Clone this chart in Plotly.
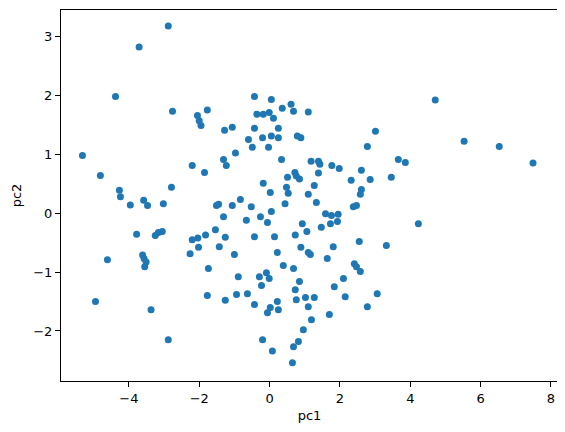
import plotly.graph_objects as go

# principal component scores
pc1 = [-5.32, -4.95, -4.81, -4.61, -4.38, -4.27, -4.24, -3.96, -3.78, -3.71,
       -3.58, -3.61, -3.57, -3.55, -3.51, -3.47, -3.37, -3.25, -3.16, -3.05,
       -3.02, -2.88, -2.88, -2.79, -2.76, -2.20, -2.20, -2.04, -2.02, -2.26,
       -2.05, -2.00, -1.95, -1.77, -1.85, -1.74, -1.77, -1.54, -1.82, -1.51,
       -1.45, -1.43, -1.31, -1.23, -1.28, -1.06, -1.31, -1.26, -1.26, -1.06,
       -1.00, -0.97, -0.94, -0.89, -0.83, -0.66, -0.63, -0.60, -0.52, -0.49,
       -0.43, -0.43, -0.43, -0.43, -0.36, -0.29, -0.26, -0.23, -0.20, -0.20,
       -0.18, -0.18, -0.09, -0.06, -0.06, -0.03, -0.01, -0.01, 0.02, 0.02,
       0.05, 0.05, 0.05, 0.08, 0.11, 0.14, 0.22, 0.22, 0.25, 0.25,
       0.25, 0.34, 0.36, 0.39, 0.44, 0.48, 0.51, 0.53, 0.61, 0.65,
       0.68, 0.68, 0.68, 0.72, 0.73, 0.73, 0.76, 0.76, 0.79, 0.82,
       0.85, 0.85, 0.89, 0.89, 0.93, 0.96, 1.02, 1.06, 1.10, 1.10,
       1.10, 1.10, 1.16, 1.18, 1.19, 1.27, 1.27, 1.33, 1.39, 1.43,
       1.39, 1.47, 1.59, 1.64, 1.70, 1.73, 1.76, 1.77, 1.81, 1.84,
       1.93, 1.95, 1.98, 2.10, 2.15, 2.32, 2.38, 2.41, 2.47, 2.47,
       2.55, 2.58, 2.58, 2.61, 2.61, 2.78, 2.78, 2.86, 3.01, 3.06,
       3.32, 3.46, 3.66, 3.86, 4.23, 4.71, 5.53, 6.53, 7.49]
pc2 = [0.98, -1.50, 0.64, -0.79, 1.98, 0.39, 0.28, 0.14, -0.36, 2.82,
       0.22, -0.71, -0.77, -0.91, -0.83, 0.13, -1.64, -0.38, -0.33, -0.31,
       0.16, 3.18, -2.15, 0.44, 1.73, 0.81, -0.45, -0.42, -0.58, -0.69,
       1.66, 1.57, 1.49, 1.75, 0.69, -0.94, -1.40, -0.28, -0.37, 0.13,
       0.15, -0.57, 0.91, 0.81, 1.41, 1.46, -0.06, -0.41, -1.48, 0.13,
       -0.70, 1.02, -1.38, -1.08, 0.23, -0.12, -1.37, 1.25, 0.11, 1.12,
       1.98, 1.44, -0.40, -1.55, 1.68, -1.08, -0.06, -1.23, 1.28, -2.15,
       1.68, 0.51, -1.01, -0.16, -1.69, 1.12, 1.71, -1.11, 0.35, -1.60,
       1.93, 1.31, 0.03, -2.34, 1.61, -0.40, -0.67, -1.50, 1.44, 1.28,
       -1.64, 0.91, 1.78, -0.89, 0.16, 0.44, 0.61, 0.34, 1.85, -2.54,
       1.73, -0.94, -2.27, 0.69, -0.37, -1.30, 0.63, -1.47, 1.31, -2.18,
       0.58, -1.16, 1.28, -0.58, -0.18, -1.98, -1.43, -0.31, 1.72, 0.32,
       -0.67, -1.59, -0.70, 0.88, -1.81, 0.47, -1.43, 0.18, 0.88, 0.83,
       0.68, -0.24, -0.01, -0.77, -1.72, -0.18, -0.04, 0.81, -0.57, -1.25,
       -0.14, -0.02, 0.76, -1.11, -1.42, 0.56, 0.11, -0.86, 0.13, -0.91,
       -0.48, 0.32, -0.99, 0.73, 0.40, 1.13, -1.59, 0.57, 1.39, -1.37,
       -0.55, 0.61, 0.91, 0.86, -0.18, 1.92, 1.22, 1.13, 0.85]

fig = go.Figure(go.Scatter(
    x=pc1, y=pc2, mode="markers",
    marker=dict(color="#1f77b4", size=7, line=dict(width=0)),
))

axis_style = dict(
    showgrid=False, zeroline=False, showline=True, mirror=True,
    linecolor="black", linewidth=1, ticks="outside", ticklen=5,
    tickwidth=1, tickcolor="black", tickfont=dict(size=13, color="black"),
    automargin=False,
)
fig.update_xaxes(range=[-5.93, 8.2], dtick=2, tick0=0,
                 title=dict(text="pc1", font=dict(size=13, color="black"), standoff=6),
                 **axis_style)
fig.update_yaxes(range=[-2.85, 3.45], dtick=1, tick0=0,
                 title=dict(text="pc2", font=dict(size=13, color="black"), standoff=8),
                 **axis_style)
# the page body carries an 8px margin, so the figure is shrunk to fit the window
fig.update_layout(
    width=557, height=424,
    margin=dict(l=53, r=7, t=2, b=51),
    plot_bgcolor="white", paper_bgcolor="white",
    font=dict(family="DejaVu Sans", color="black"),
    showlegend=False,
)
fig.write_html("out.html")
